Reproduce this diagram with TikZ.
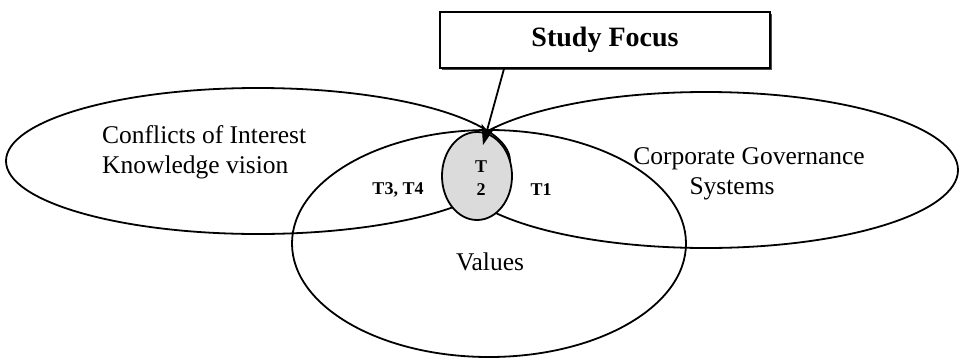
\documentclass[tikz,border=0pt]{standalone}
\usepackage{fontspec}
\setmainfont{Liberation Serif}
\usetikzlibrary{shapes.geometric,arrows.meta,shadows}
\begin{document}
\begin{tikzpicture}[x=1pt,y=-1pt,
  ring/.style={draw=black,line width=1.8pt,ellipse,inner sep=0pt,outer sep=0pt},
  lbl/.style={font=\fontsize{25.5}{30}\selectfont,inner sep=0pt},
  tlbl/.style={font=\fontsize{18}{23}\selectfont\bfseries,inner sep=0pt,align=center}]
\useasboundingbox (0,0) rectangle (960,359);
% ellipses
\node[ring,minimum width=504pt,minimum height=146pt] (conf) at (258,161) {};
\node[ring,minimum width=504pt,minimum height=156pt] (corp) at (706,170) {};
\node[ring,minimum width=394pt,minimum height=227pt] (vals) at (489,243.5) {};
\node[ring,fill=black!14,minimum width=70pt,minimum height=88pt] (focus) at (477,176) {};
% texts
\node[lbl,align=left,anchor=west] (conft) at (102,152) {Conflicts of Interest\\Knowledge vision};
\node[lbl,align=center] (corpt) at (749,173.5) {Corporate Governance\\Systems\hspace*{34pt}};
\node[lbl] (valt) at (490,262) {Values};
\node[tlbl] (t34) at (398,190) {T3, T4};
\node[tlbl] (t2) at (481,178.5) {T\\2};
\node[tlbl] (t1) at (541,190) {T1};
% box
\node[draw=black,line width=1.6pt,fill=white,minimum width=330pt,minimum height=56pt,inner sep=0pt,
  drop shadow={shadow xshift=1.6pt,shadow yshift=-1.6pt,fill=black!70,opacity=1},
  font=\fontsize{28}{32}\selectfont\bfseries] (box) at (605,40) {Study Focus};
\coordinate (tip) at (483,145);
\draw[line width=1.8pt,-{Stealth[length=20pt,width=14pt,inset=5pt]}] (box.south -| 504,0) -- (tip);
\end{tikzpicture}
\end{document}
